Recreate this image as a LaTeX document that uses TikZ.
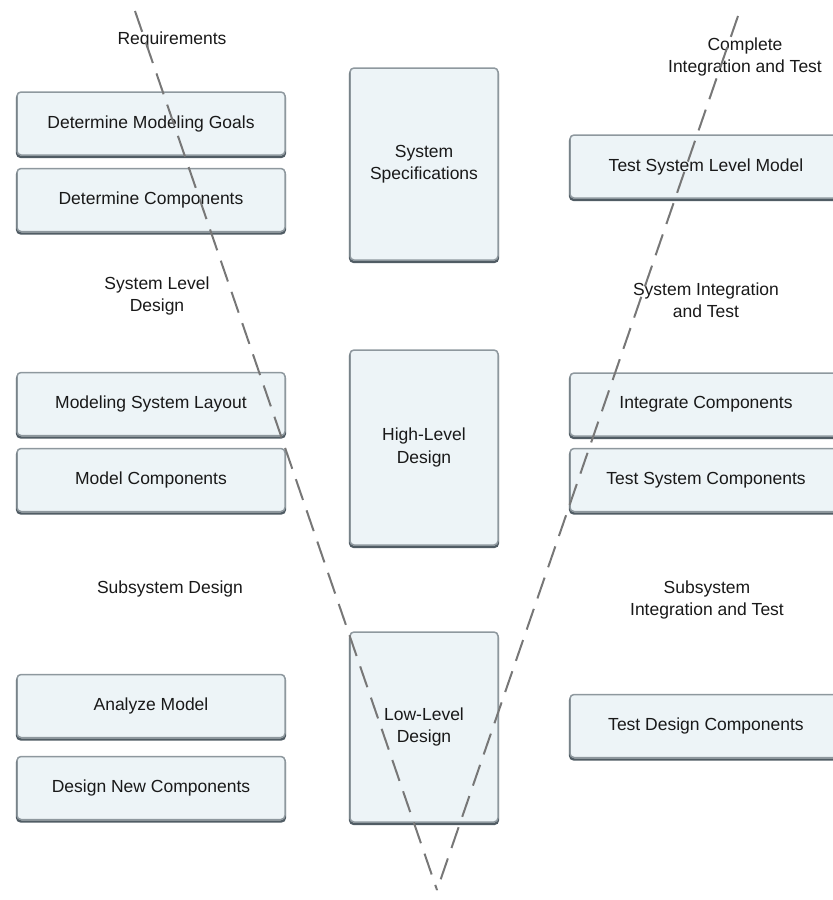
\documentclass[tikz,border=0pt]{standalone}
\usepackage{fontspec}
\setmainfont{Liberation Sans}
\definecolor{boxfill}{HTML}{EDF4F7}
\definecolor{boxedge}{HTML}{8E989E}
\definecolor{boxshade}{HTML}{505C64}
\definecolor{vline}{HTML}{777777}
\begin{document}
\begin{tikzpicture}[x=1pt,y=-1pt,
  stage/.style={rectangle, rounded corners=4pt, fill=boxfill, draw=boxedge,
    line width=1.5pt, align=center, font=\fontsize{17.5}{22.5}\selectfont,
    inner sep=0pt, text=black!90,
    preaction={draw=boxshade, line width=2.4pt, transform canvas={yshift=-2pt}}},
  side/.style={stage, minimum width=268pt, minimum height=63pt},
  mid/.style={stage, minimum width=148pt},
  rside/.style={stage, minimum width=272pt, minimum height=63pt},
  phase/.style={align=center, font=\fontsize{17.5}{22.5}\selectfont, text=black!90},
  vee/.style={draw=vline, line width=2pt, dash pattern=on 22pt off 11pt}]
\useasboundingbox (0,0) rectangle (833,900);
\clip (0,0) rectangle (833,900);

% left column
\node[side] (goals) at (151,123.5) {Determine Modeling Goals};
\node[side] (comps) at (151,200) {Determine Components};
\node[side] (layout) at (151,404) {Modeling System Layout};
\node[side] (model) at (151,480) {Model Components};
\node[side] (analyze) at (151,706) {Analyze Model};
\node[side] (newcomp) at (151,788) {Design New Components};

% middle column
\node[mid, minimum height=192pt] (spec) at (424,164) {System\\Specifications};
\node[mid, minimum height=195pt] (high) at (424,447.5) {High-Level\\Design};
\node[mid, minimum height=190pt] (low) at (424,727) {Low-Level\\Design};

% right column
\node[rside] (tsl) at (706,166.5) {Test System Level Model};
\node[rside] (integ) at (706,404.5) {Integrate Components};
\node[rside] (tsc) at (706,480) {Test System Components};
\node[rside] (tdc) at (706,726) {Test Design Components};

% phase labels
\node[phase] (req) at (172,40) {Requirements};
\node[phase] (cit) at (745,57) {Complete\\Integration and Test};
\node[phase] (sld) at (157,296) {System Level\\Design};
\node[phase] (sit) at (706,300) {System Integration\\and Test};
\node[phase] (ssd) at (170,589) {Subsystem Design};
\node[phase] (ssit) at (707,600) {Subsystem\\Integration and Test};

% the V
\coordinate (vtl) at (135,11);
\coordinate (vbot) at (437,890);
\coordinate (vtr) at (738,16);
\draw[vee] (vtl) -- (vbot);
\draw[vee] (vtr) -- (vbot);
\end{tikzpicture}
\end{document}
